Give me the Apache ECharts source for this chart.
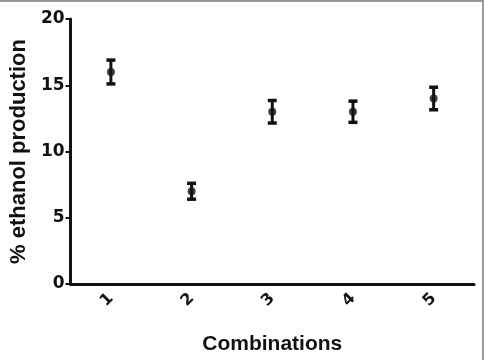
<!DOCTYPE html>
<html>
<head>
<meta charset="utf-8">
<script src="https://cdn.jsdelivr.net/npm/echarts@6/dist/echarts.min.js"></script>
<style>
  html, body { margin: 0; padding: 0; background: #fff; }
  #chart { width: 484px; height: 360px; box-sizing: border-box; border-top: 2px solid #999; border-right: 2px solid #999; }
</style>
</head>
<body>
<div id="chart"></div>
<script>
const categories = ['1', '2', '3', '4', '5'];
const means = [16, 7, 13, 13, 14];
const errors = [0.9, 0.6, 0.85, 0.8, 0.85];
const yTicks = { min: 0, max: 20, interval: 5 };

const chart = echarts.init(document.getElementById('chart'));

const errData = categories.map((c, i) => [i, means[i] - errors[i], means[i] + errors[i]]);

chart.setOption({
  animation: false,
  backgroundColor: '#fff',
  grid: { left: 68, right: 8, top: 17, bottom: 73 },
  xAxis: {
    type: 'category',
    data: categories,
    name: 'Combinations',
    nameLocation: 'middle',
    nameGap: 50,
    nameTextStyle: { fontFamily: 'Arial, Liberation Sans', fontWeight: 'bold', fontSize: 21, color: '#111' },
    axisLine: { lineStyle: { color: '#111', width: 3 } },
    axisTick: { alignWithLabel: true, length: 5, lineStyle: { color: '#111', width: 2 } },
    axisLabel: { rotate: 45, margin: 12, fontFamily: 'DejaVu Sans', fontWeight: 'bold', fontSize: 16, color: '#111' },
    splitLine: { show: false }
  },
  yAxis: {
    type: 'value',
    min: yTicks.min,
    max: yTicks.max,
    interval: yTicks.interval,
    name: '% ethanol production',
    nameLocation: 'middle',
    nameGap: 38,
    nameTextStyle: { fontFamily: 'Arial, Liberation Sans', fontWeight: 'bold', fontSize: 22, color: '#111' },
    axisLine: { show: true, lineStyle: { color: '#111', width: 3 } },
    axisTick: { show: true, length: 5, lineStyle: { color: '#111', width: 2 } },
    axisLabel: { margin: 6, fontFamily: 'DejaVu Sans', fontWeight: 'bold', fontSize: 17, color: '#111' },
    splitLine: { show: false }
  },
  series: [
    {
      type: 'custom',
      data: errData,
      renderItem: (params, api) => {
        const x = api.value(0);
        const lo = api.coord([x, api.value(1)]);
        const hi = api.coord([x, api.value(2)]);
        const hw = 4.5;
        const style = { stroke: '#111', lineWidth: 3 };
        const capStyle = { stroke: '#111', lineWidth: 3.5 };
        return {
          type: 'group',
          children: [
            { type: 'line', shape: { x1: hi[0], y1: hi[1], x2: lo[0], y2: lo[1] }, style },
            { type: 'line', shape: { x1: hi[0] - hw, y1: hi[1], x2: hi[0] + hw, y2: hi[1] }, style: capStyle },
            { type: 'line', shape: { x1: lo[0] - hw, y1: lo[1], x2: lo[0] + hw, y2: lo[1] }, style: capStyle }
          ]
        };
      },
      z: 2
    },
    {
      type: 'scatter',
      data: means,
      symbol: 'circle',
      symbolSize: 8,
      itemStyle: { color: '#111' },
      z: 3
    }
  ]
});
</script>
</body>
</html>
